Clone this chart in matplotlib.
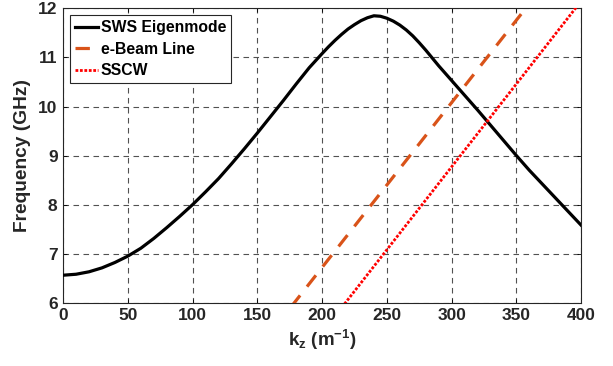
import matplotlib
matplotlib.use("Agg")
import matplotlib.pyplot as plt

# Data
k_sws = [0, 10, 20, 30, 40, 50, 60, 70, 80, 90, 100, 110, 120, 130, 140, 150, 160, 170, 180, 190,
         200, 205, 210, 215, 220, 225, 230, 235, 240, 245, 250, 255, 260, 265, 270, 275, 280, 285,
         290, 300, 310, 320, 330, 340, 350, 360, 370, 380, 390, 400]
f_sws = [6.56, 6.58, 6.63, 6.71, 6.82, 6.95, 7.11, 7.31, 7.53, 7.76, 8.00, 8.26, 8.53, 8.83, 9.14,
         9.46, 9.79, 10.12, 10.46, 10.79, 11.08, 11.22, 11.35, 11.47, 11.58, 11.67, 11.75, 11.81,
         11.85, 11.84, 11.80, 11.74, 11.66, 11.56, 11.44, 11.30, 11.15, 10.99, 10.83, 10.53, 10.23,
         9.93, 9.62, 9.31, 9.00, 8.70, 8.42, 8.14, 7.86, 7.58]
k_beam = [0, 400]
f_beam = [0.0, 13.44]
k_sscw = [0, 400]
f_sscw = [-1.37, 12.15]

xticks = [0, 50, 100, 150, 200, 250, 300, 350, 400]
yticks = [6, 7, 8, 9, 10, 11, 12]

plt.rcParams['font.family'] = ['Liberation Sans', 'DejaVu Sans']
plt.rcParams['font.weight'] = 'bold'
plt.rcParams['mathtext.fontset'] = 'custom'
plt.rcParams['mathtext.rm'] = 'Liberation Sans:bold'
plt.rcParams['mathtext.bf'] = 'Liberation Sans:bold'
plt.rcParams['mathtext.default'] = 'bf'

fig = plt.figure(figsize=(6.13, 3.66), dpi=100)
ax = fig.add_axes([0.103, 0.173, 0.845, 0.804])

ax.plot(k_sws, f_sws, color='black', lw=2.3, label='SWS Eigenmode', zorder=3)
ax.plot(k_beam, f_beam, color='#D95319', lw=2.3, dashes=(4.5, 3.5), label='e-Beam Line', zorder=3)
ax.plot(k_sscw, f_sscw, color='#FF0000', lw=2.0, linestyle=(0, (1.0, 0.6)), label='SSCW', zorder=3)

ax.set_xlim(0, 400)
ax.set_ylim(6, 12)
ax.set_xticks(xticks)
ax.set_yticks(yticks)
ax.tick_params(direction='in', length=3, width=0.6, labelsize=12.5, top=True, right=True, pad=4)
for lab in ax.get_xticklabels() + ax.get_yticklabels():
    lab.set_fontweight('bold')
    lab.set_color('#262626')
ax.grid(True, color='#333333', linestyle=(0, (5, 4)), lw=0.8, alpha=0.85)
for s in ax.spines.values():
    s.set_linewidth(0.8)
    s.set_color('#262626')

ax.set_xlabel(r'k$_z$ (m$^{-1}$)', fontsize=13.5, fontweight='bold', color='#262626', labelpad=3)
ax.set_ylabel('Frequency (GHz)', fontsize=13.8, fontweight='bold', color='#262626', labelpad=5)

leg = ax.legend(loc='upper left', fontsize=11.3, frameon=True, fancybox=False, framealpha=1,
                edgecolor='#262626', handlelength=1.45, handletextpad=0.2, borderpad=0.3,
                labelspacing=0.42, borderaxespad=0.45)
leg.get_frame().set_linewidth(0.8)
for t in leg.get_texts():
    t.set_fontweight('bold')

fig.savefig('out.png', dpi=100)
